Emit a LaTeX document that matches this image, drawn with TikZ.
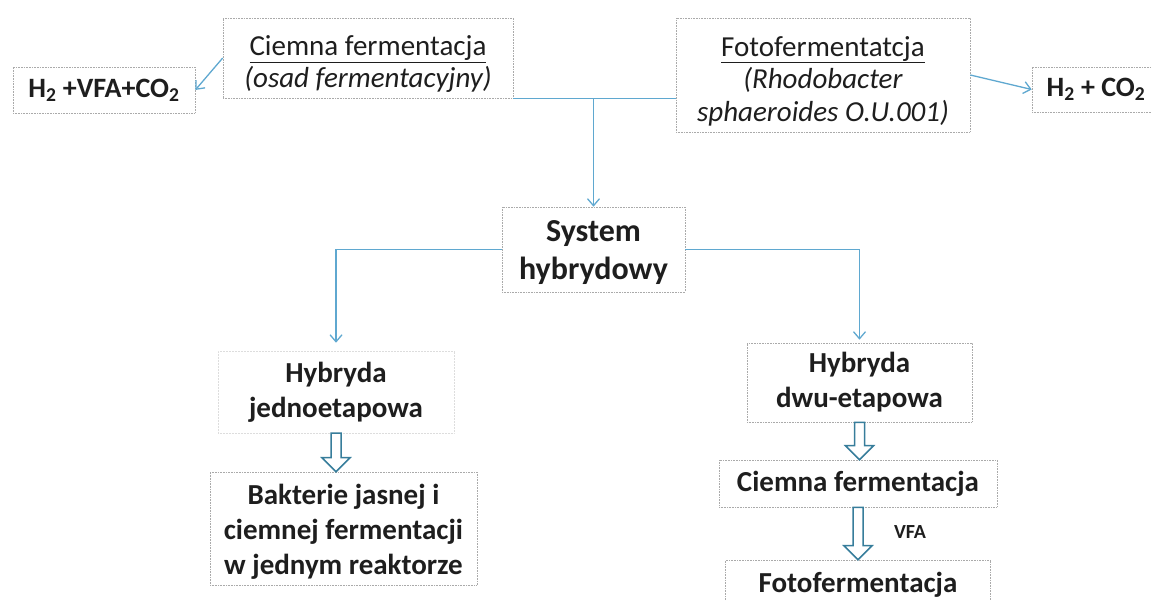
\documentclass[tikz,border=0pt]{standalone}
\usepackage{fontspec}
\setmainfont{Carlito}
\usetikzlibrary{arrows.meta,calc}
\definecolor{lineblue}{RGB}{95,168,208}
\definecolor{hollowc}{RGB}{55,125,155}
\definecolor{boxgray}{RGB}{170,170,170}
\definecolor{txt}{RGB}{30,30,30}
\begin{document}
\begin{tikzpicture}[x=1pt,y=-1pt,
  box/.style={draw=boxgray, densely dotted, line width=0.6pt, inner sep=0pt, align=center, text=txt, fill=white},
  faint/.style={draw=boxgray!40, densely dotted, line width=0.5pt, inner sep=0pt, align=center, text=txt, fill=white},
  lbl/.style={inner sep=0pt, align=center, text=txt},
  conn/.style={draw=lineblue, line width=1.3pt, -{Straight Barb[length=7pt,width=12pt]}},
  plainline/.style={draw=lineblue, line width=1.3pt},
  hollow/.style={draw=hollowc, line width=1.5pt, fill=white, line join=miter},
  topfont/.style={font=\fontsize{29}{31.5}\selectfont},
  toptall/.style={font=\fontsize{29}{32.5}\selectfont},
  boldfont/.style={font=\bfseries\fontsize{29}{35}\selectfont},
  bigfont/.style={font=\bfseries\fontsize{32}{38}\selectfont},
  h2font/.style={font=\bfseries\fontsize{28}{30}\selectfont}]
\useasboundingbox (0,0) rectangle (1152,601);

% top row
\node[box, h2font, minimum width=182, minimum height=46] (h2a) at (104,90) {H\textsubscript{2} +VFA+CO\textsubscript{2}};
\node[box, minimum width=290, minimum height=80] (cf) at (368,58) {};
\node[lbl, topfont] (cft) at ($(cf.center)+(0,6)$) {\underline{Ciemna fermentacja}\\\textit{(osad fermentacyjny)}};
\node[box, minimum width=294, minimum height=114] (ff) at (823,75) {};
\node[lbl, toptall] (fft) at ($(ff.center)+(0,6)$) {\underline{Fotofermentatcja}\\\textit{(Rhodobacter}\\\textit{sphaeroides O.U.001)}};
\node[box, h2font, minimum width=128, minimum height=45] (h2b) at (1096,89.5) {H\textsubscript{2} + CO\textsubscript{2}};

% middle
\node[box, minimum width=183, minimum height=85] (sys) at (593.5,249.5) {};
\node[lbl, bigfont] (syst) at ($(sys.center)+(0,3)$) {System\\hybrydowy};

% lower left
\node[faint, boldfont, minimum width=236, minimum height=82] (hy1) at (336,392) {Hybryda\\jednoetapowa};
\node[box, minimum width=267, minimum height=113] (bk) at (343.5,528.5) {};
\node[lbl, boldfont] (bkt) at ($(bk.center)+(0,3)$) {Bakterie jasnej i\\ciemnej fermentacji\\w jednym reaktorze};

% lower right
\node[box, boldfont, minimum width=225, minimum height=79] (hy2) at (859.5,382.5) {Hybryda\\dwu-etapowa};
\node[box, boldfont, minimum width=278, minimum height=47] (cf2) at (858,483.5) {Ciemna fermentacja};
\node[box, boldfont, minimum width=265, minimum height=50] (ff2) at (858,585) {Fotofermentacja};
\node[font=\bfseries\fontsize{20}{22}\selectfont, text=txt] (vfa) at (910,532) {VFA};

% connectors
\draw[conn] (cf.west) -- (h2a.east);
\draw[conn] (ff.east) -- (h2b.west);
\coordinate (jl) at (cf.south east);
\coordinate (jr) at (jl -| ff.west);
\coordinate (jm) at (jl -| sys.north);
\draw[plainline] (jl) -- (jr);
\draw[conn] (jm) -- (sys.north);
\draw[conn, shorten >=8pt] (sys.west) -| (hy1.north);
\draw[conn, shorten >=3pt] (sys.east) -| (hy2.north);

% hollow block arrows
\draw[hollow] let \p1=(hy1.south), \p2=(bk.north) in
  (\x1-5pt,\y1) -- (\x1+5pt,\y1) -- (\x1+5pt,\y2+14pt) -- (\x1+14pt,\y2+14pt) -- (\x1,\y2)
  -- (\x1-14pt,\y2+14pt) -- (\x1-5pt,\y2+14pt) -- cycle;
\draw[hollow] let \p1=(hy2.south), \p2=(cf2.north) in
  (\x1-5pt,\y1) -- (\x1+5pt,\y1) -- (\x1+5pt,\y2+14pt) -- (\x1+14pt,\y2+14pt) -- (\x1,\y2)
  -- (\x1-14pt,\y2+14pt) -- (\x1-5pt,\y2+14pt) -- cycle;
\draw[hollow] let \p1=(cf2.south), \p2=(ff2.north) in
  (\x1-5pt,\y1) -- (\x1+5pt,\y1) -- (\x1+5pt,\y2+14pt) -- (\x1+14pt,\y2+14pt) -- (\x1,\y2)
  -- (\x1-14pt,\y2+14pt) -- (\x1-5pt,\y2+14pt) -- cycle;
\end{tikzpicture}
\end{document}
